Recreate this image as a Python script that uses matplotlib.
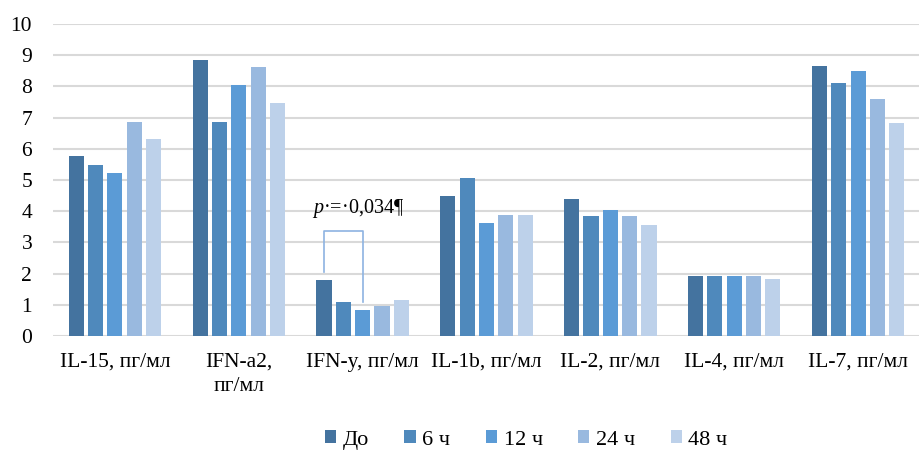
import numpy as np
import matplotlib.pyplot as plt
from matplotlib.patches import Patch

plt.rcParams['font.family'] = ['Liberation Serif', 'DejaVu Serif']
plt.rcParams['mathtext.fontset'] = 'custom'
plt.rcParams['mathtext.it'] = 'Liberation Serif:italic'
plt.rcParams['mathtext.rm'] = 'Liberation Serif'

categories = ['IL-15, пг/мл', 'IFN-a2,\nпг/мл', 'IFN-y, пг/мл', 'IL-1b, пг/мл',
              'IL-2, пг/мл', 'IL-4, пг/мл', 'IL-7, пг/мл']
series_names = ['До', '6 ч', '12 ч', '24 ч', '48 ч']
do_vals = [5.77, 8.84, 1.81, 4.48, 4.38, 1.91, 8.66]
h6_vals = [5.48, 6.86, 1.08, 5.05, 3.84, 1.93, 8.10]
h12_vals = [5.21, 8.03, 0.83, 3.61, 4.04, 1.93, 8.48]
h24_vals = [6.86, 8.62, 0.97, 3.88, 3.84, 1.93, 7.60]
h48_vals = [6.30, 7.46, 1.16, 3.88, 3.55, 1.83, 6.83]
all_vals = [do_vals, h6_vals, h12_vals, h24_vals, h48_vals]
colors = ['#44739F', '#4F89BC', '#5B9BD6', '#99B9DF', '#BDD1EA']

fig = plt.figure(figsize=(9.2, 4.57), dpi=100)
ax = fig.add_axes([53 / 920, 1 - 336 / 457, 867 / 920, 312 / 457])

x = np.arange(len(categories))
slot = 0.156
width = 0.122
for i, vals in enumerate(all_vals):
    ax.bar(x + (i - 2) * slot, vals, width, color=colors[i], zorder=3)

ax.set_xlim(-0.5, len(categories) - 0.5)
ax.set_ylim(0, 10)
ax.set_yticks(range(11))
ax.set_yticklabels([str(v) for v in range(11)], fontsize=15.5)
ax.set_xticks(x)
ax.set_xticklabels(categories, fontsize=15.5, linespacing=1.35, va='top')
ax.tick_params(length=0)
ax.tick_params(axis='y', pad=15)
ax.tick_params(axis='x', pad=12)
ax.grid(axis='y', color='#D9D9D9', linewidth=1.5, zorder=0)
for s in ax.spines.values():
    s.set_visible(False)

# significance bracket between До and 12 ч of IFN-y
xl = x[2] - 0.315
xr = x[2] + 0.005
ax.plot([xl, xl, xr, xr], [2.05, 3.37, 3.37, 1.08], color='#8DB3E2', linewidth=1.2, zorder=4)
ax.text(x[2] - 2 * slot - 0.1, 3.95, '$p$·=·0,034¶', fontsize=14.5, ha='left', va='baseline',
        zorder=5)

handles = [Patch(facecolor=c, edgecolor='none') for c in colors]
fig.legend(handles, series_names, loc='center', bbox_to_anchor=(0.572, 1 - 440 / 457),
           ncol=5, frameon=False, fontsize=16, handlelength=0.5, handleheight=0.5,
           handletextpad=0.3, columnspacing=1.6)

fig.savefig('out.png', dpi=100)
